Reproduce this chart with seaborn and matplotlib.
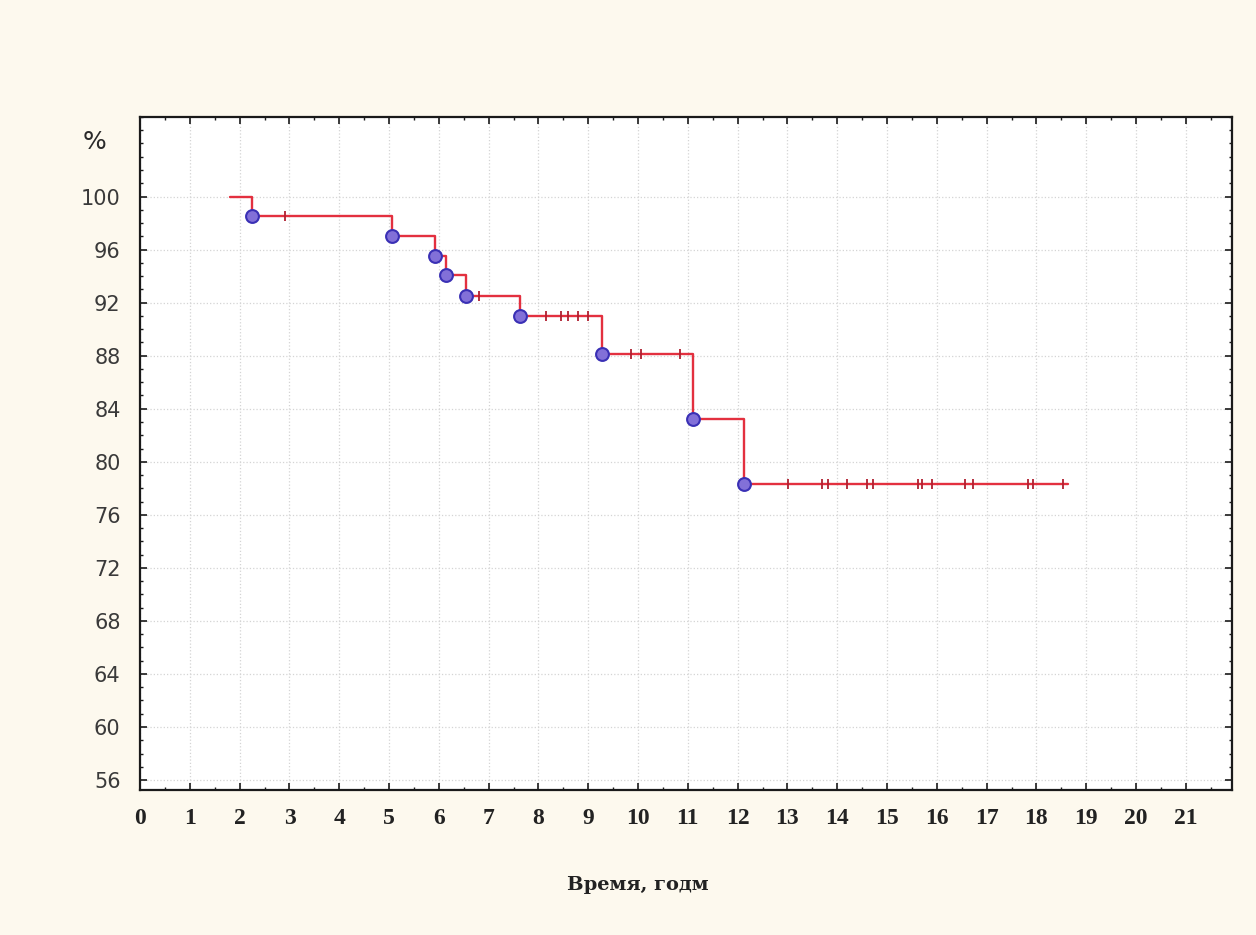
import numpy as np
import pandas as pd
import matplotlib
matplotlib.use("Agg")
import matplotlib.pyplot as plt
from matplotlib.ticker import MultipleLocator
import seaborn as sns

# Kaplan-Meier survival estimate (percent) against follow-up time (years)
start_time = 1.8
start_level = 100.0
event_times = [2.25, 5.06, 5.92, 6.14, 6.55, 7.63, 9.28, 11.10, 12.13]
event_levels = [98.5, 97.05, 95.5, 94.1, 92.5, 91.0, 88.1, 83.2, 78.3]
end_time = 18.63

# Censored observations (times only; level taken from the step curve)
censor_times = [2.91, 6.80, 8.15, 8.45, 8.60, 8.80, 9.00, 9.85, 10.05, 10.85,
                13.01, 13.69, 13.82, 14.20, 14.60, 14.72, 15.62, 15.70, 15.90,
                16.57, 16.73, 17.83, 17.93, 18.53]

x_ticks = list(range(0, 22))
y_ticks = list(range(56, 101, 4))
y_ticklabels = [str(v) for v in y_ticks]

sns.set_theme(style="white")
plt.rcParams["font.family"] = ["DejaVu Sans"]

steps = pd.DataFrame({
    "t": [start_time] + event_times + [end_time],
    "s": [start_level] + event_levels + [event_levels[-1]],
})
events = pd.DataFrame({"t": event_times, "s": event_levels})


def level_at(t):
    lvl = start_level
    for et, el in zip(event_times, event_levels):
        if t >= et:
            lvl = el
    return lvl


censored = pd.DataFrame({"t": censor_times, "s": [level_at(t) for t in censor_times]})

fig = plt.figure(figsize=(12.56, 9.35), dpi=100, facecolor="#fdf9ee")
ax = fig.add_axes([0.1115, 0.1551, 0.8695, 0.7198])
ax.set_facecolor("white")

sns.lineplot(data=steps, x="t", y="s", ax=ax, drawstyle="steps-post",
             estimator=None, sort=False, color="#e3303f", linewidth=1.7, zorder=3)
sns.scatterplot(data=censored, x="t", y="s", ax=ax, marker="|", s=45,
                color="#b02030", linewidth=1.3, zorder=4)
sns.scatterplot(data=events, x="t", y="s", ax=ax, marker="o", s=85,
                facecolor="#8270d8", edgecolor="#3a30b5", linewidth=1.5, zorder=5)

ax.set_xlim(0, 21.93)
ax.set_ylim(55.25, 106.0)
ax.set_xticks(x_ticks)
ax.set_yticks(y_ticks)
ax.set_yticklabels(y_ticklabels)
ax.xaxis.set_minor_locator(MultipleLocator(0.5))
ax.yaxis.set_minor_locator(MultipleLocator(1))
ax.set_xlabel("")
ax.set_ylabel("")

ax.grid(True, which="major", color="#d4d4d4", linestyle=":", linewidth=0.9, zorder=0)

for sp in ax.spines.values():
    sp.set_visible(True)
    sp.set_color("#1a1a1a")
    sp.set_linewidth(1.6)

ax.tick_params(axis="both", which="major", direction="in", length=5, width=1.2,
               color="#1a1a1a", top=True, right=True, bottom=True, left=True)
ax.tick_params(axis="both", which="minor", direction="in", length=2.5, width=1.0,
               color="#1a1a1a", top=True, right=True, bottom=True, left=True)
ax.tick_params(axis="y", which="major", pad=14, labelsize=15, labelcolor="#3a3a3a")
ax.tick_params(axis="x", which="major", pad=13, labelsize=17, labelcolor="#222222")
for lab in ax.get_xticklabels():
    lab.set_family("Liberation Serif")
    lab.set_weight("bold")

fig.text(0.0755, 0.848, "%", fontsize=18, color="#2a2a2a", ha="center", va="center",
         family="DejaVu Sans")
fig.text(0.508, 0.0535, "Время, годм", fontsize=14, color="#222222", ha="center",
         va="center", family="DejaVu Serif", weight="bold")

fig.savefig("out.png", dpi=100, facecolor=fig.get_facecolor())
